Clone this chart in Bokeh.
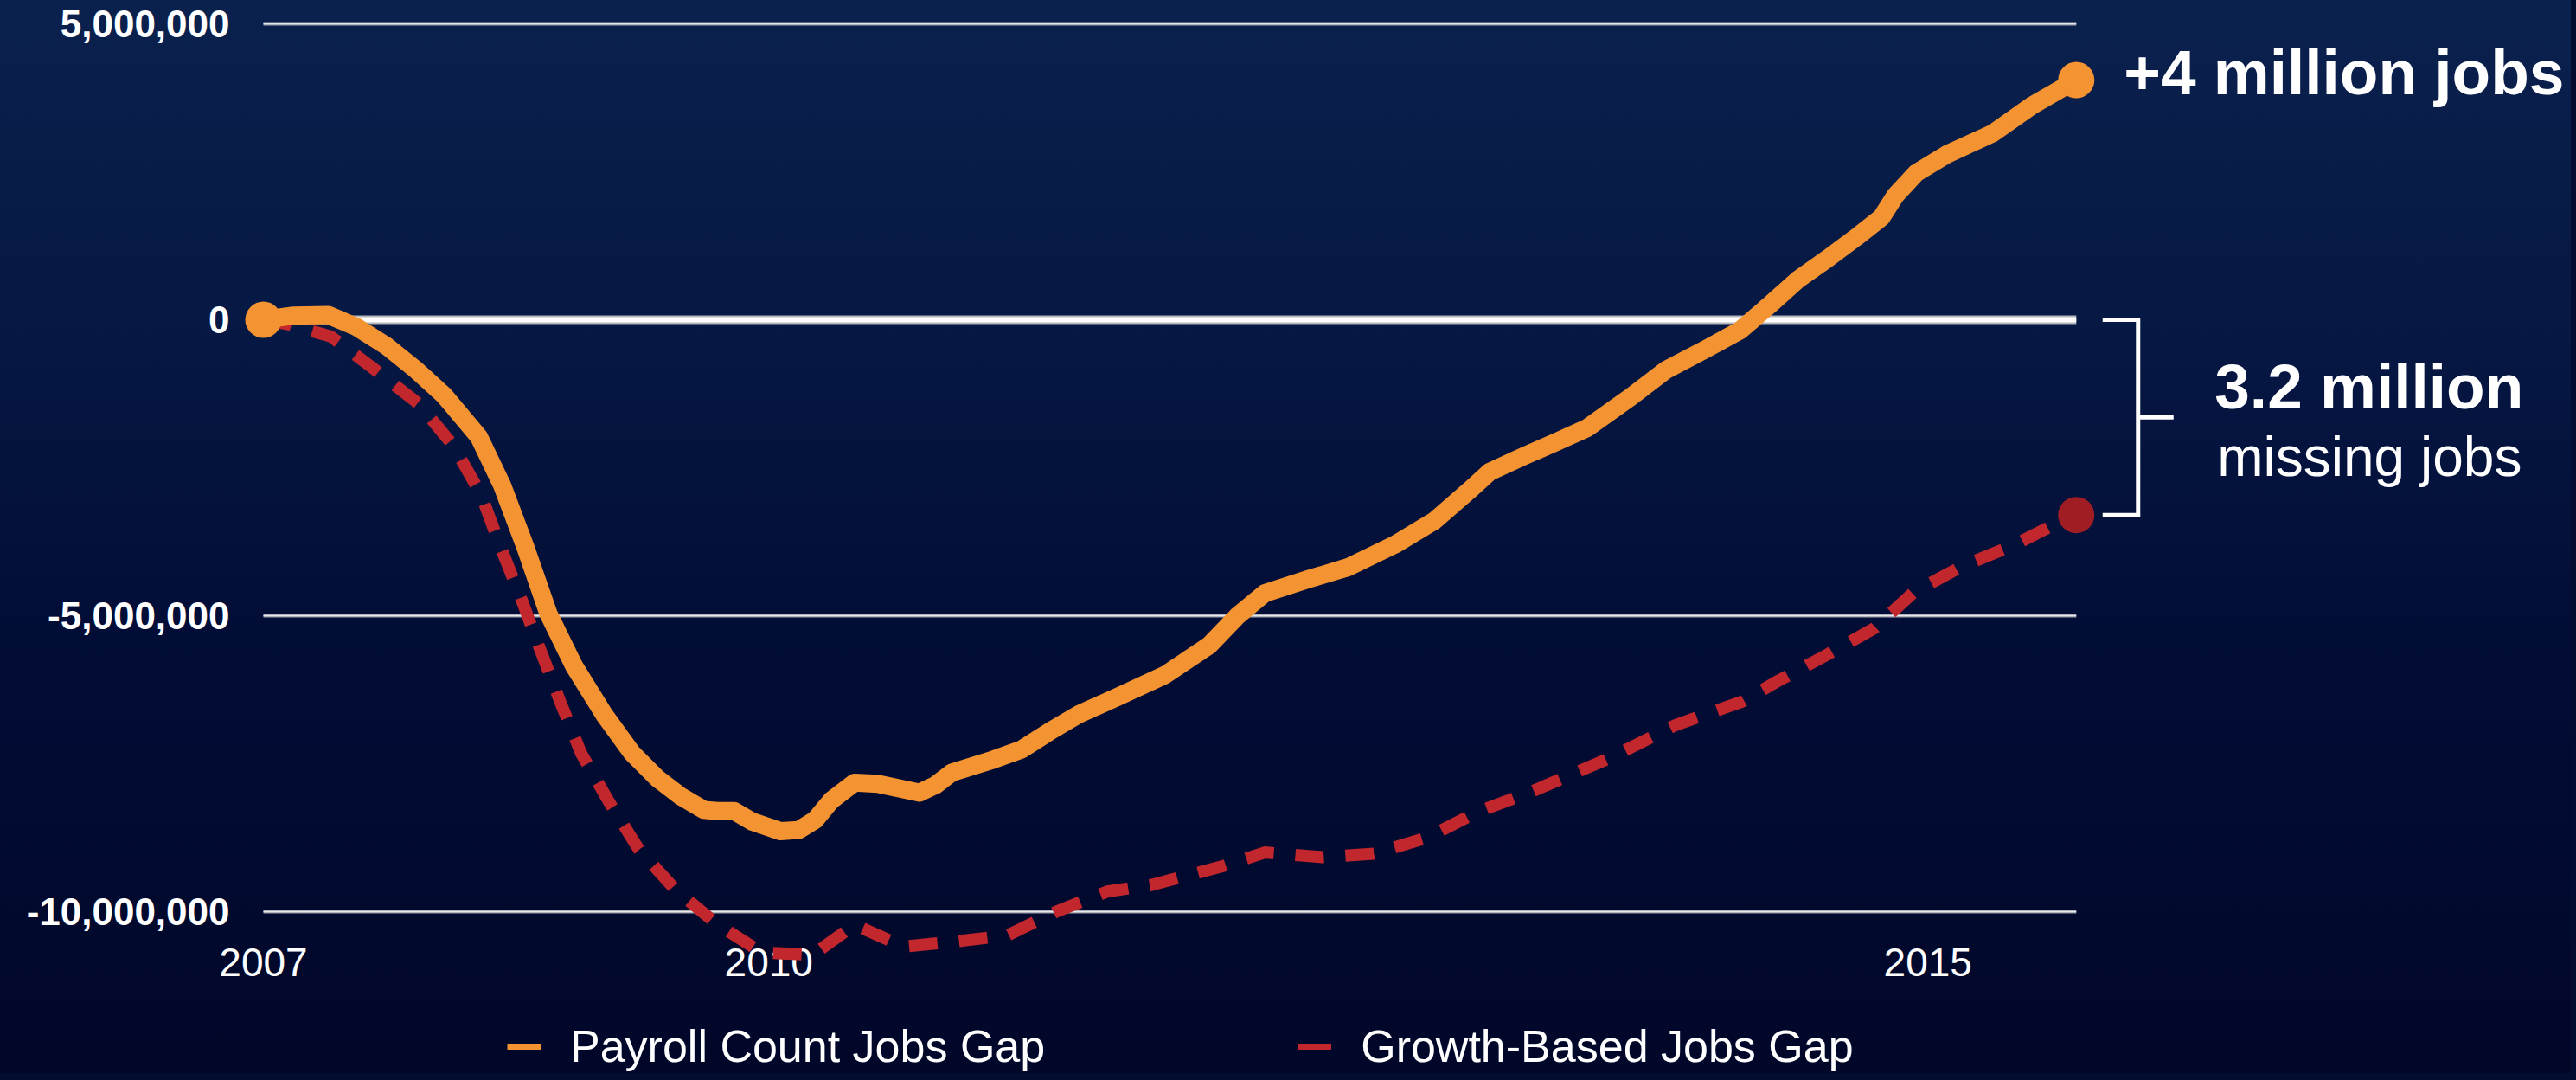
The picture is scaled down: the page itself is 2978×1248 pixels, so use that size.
import numpy as np
from bokeh.plotting import figure
from bokeh.models import (Range1d, FixedTicker, NumeralTickFormatter, Legend,
                          LegendItem, LabelSet, ColumnDataSource)
from bokeh.core.properties import value
from bokeh.embed import file_html
from bokeh.resources import INLINE

# ---------------- data ----------------
SERIES_NAMES = ["Payroll Count Jobs Gap", "Growth-Based Jobs Gap"]

PAYROLL_YEARS = [2007.82, 2007.95, 2008.10, 2008.22, 2008.35, 2008.48, 2008.60,
                 2008.75, 2008.85, 2008.95, 2009.05, 2009.16, 2009.29, 2009.41,
                 2009.52, 2009.62, 2009.72, 2009.78, 2009.85, 2009.93, 2010.05,
                 2010.13, 2010.20, 2010.27, 2010.37, 2010.47, 2010.65, 2010.72,
                 2010.79, 2010.97, 2011.09, 2011.21, 2011.34, 2011.50, 2011.71,
                 2011.90, 2012.02, 2012.14, 2012.33, 2012.50, 2012.70, 2012.87,
                 2013.02, 2013.11, 2013.26, 2013.40, 2013.53, 2013.72, 2013.87,
                 2014.04, 2014.19, 2014.32, 2014.44, 2014.57, 2014.69, 2014.80,
                 2014.86, 2014.95, 2015.08, 2015.28, 2015.45, 2015.64]
PAYROLL_GAP_M = [0.00, 0.07, 0.08, -0.12, -0.44, -0.85, -1.28,
                 -1.98, -2.80, -3.84, -4.97, -5.85, -6.67, -7.32,
                 -7.75, -8.05, -8.28, -8.30, -8.30, -8.48, -8.64,
                 -8.62, -8.45, -8.12, -7.82, -7.84, -7.99, -7.86,
                 -7.65, -7.43, -7.26, -6.96, -6.66, -6.38, -6.00,
                 -5.50, -5.01, -4.62, -4.38, -4.18, -3.80, -3.40,
                 -2.89, -2.57, -2.30, -2.06, -1.83, -1.30, -0.85,
                 -0.50, -0.18, 0.26, 0.68, 1.04, 1.39, 1.73,
                 2.10, 2.48, 2.79, 3.15, 3.62, 4.05]

GROWTH_YEARS = [2007.82, 2007.92, 2008.11, 2008.30, 2008.49, 2008.64, 2008.76,
                2008.84, 2008.93, 2009.01, 2009.10, 2009.19, 2009.31, 2009.44,
                2009.60, 2009.78, 2009.97, 2010.19, 2010.37, 2010.58, 2010.79,
                2011.03, 2011.24, 2011.46, 2011.65, 2011.96, 2012.14, 2012.39,
                2012.61, 2012.84, 2013.06, 2013.28, 2013.63, 2013.91, 2014.20,
                2014.35, 2014.56, 2014.77, 2014.94, 2015.15, 2015.37, 2015.56,
                2015.64]
GROWTH_GAP_M = [0.00, -0.07, -0.28, -0.84, -1.42, -2.13, -2.96,
                -3.81, -4.69, -5.53, -6.45, -7.32, -8.14, -8.95,
                -9.64, -10.22, -10.69, -10.73, -10.22, -10.59, -10.51,
                -10.40, -10.00, -9.66, -9.55, -9.23, -9.00, -9.08,
                -9.02, -8.75, -8.31, -7.99, -7.40, -6.85, -6.45,
                -6.11, -5.67, -5.21, -4.60, -4.16, -3.81, -3.43,
                -3.30]

Y_TICKS = [5_000_000, 0, -5_000_000, -10_000_000]
X_TICK_POS = [2007.82, 2010.0, 2015.0]
X_TICK_LABELS = ["2007", "2010", "2015"]

ANNOT_TOP = "+4 million jobs"
ANNOT_GAP = "3.2 million"
ANNOT_GAP_SUB = "missing jobs"

payroll = np.array(PAYROLL_GAP_M) * 1e6
growth = np.array(GROWTH_GAP_M) * 1e6

# ---------------- layout / style ----------------
ORANGE = "#f39332"
RED = "#c1272d"
RED_DOT = "#a11d24"
FONT = "Liberation Sans"

W, H = 2972, 1240
ML, MR, MT, MB = 252, 0, 0, 0
FRAME_W = W - ML - MR
FRAME_H = H - MT - MB
PX_YR = 268.0      # pixels per year
PX_M = 68.4        # pixels per million

x_start = PAYROLL_YEARS[0] - 52 / PX_YR
x_end = x_start + FRAME_W / PX_YR
y_top = Y_TICKS[0] + 27 / PX_M * 1e6
y_bot = y_top - FRAME_H / PX_M * 1e6

p = figure(width=W, height=H, output_backend="svg", toolbar_location=None,
           x_range=Range1d(x_start, x_end), y_range=Range1d(y_bot, y_top),
           x_axis_location=None, y_axis_location="left",
           min_border_left=ML, min_border_right=MR,
           min_border_top=MT, min_border_bottom=MB)
p.grid.visible = False
p.background_fill_color = None
p.border_fill_color = None
p.outline_line_color = None
p.styles = {"background": "linear-gradient(180deg, #0b214d 0%, #061844 30%, "
                          "#020d36 60%, #010729 100%)",
            "box-shadow": "0 0 0 16px #030c31"}

# y axis
yax = p.yaxis[0]
yax.ticker = FixedTicker(ticks=Y_TICKS)
yax.formatter = NumeralTickFormatter(format="0,0")
yax.axis_line_color = None
yax.major_tick_line_color = None
yax.minor_tick_line_color = None
yax.major_tick_out = 0
yax.major_tick_in = 0
yax.major_label_standoff = -13
yax.major_label_text_font = FONT
yax.major_label_text_font_style = "bold"
yax.major_label_text_font_size = "44px"
yax.major_label_text_color = "white"

x_first = PAYROLL_YEARS[0]
x_last = PAYROLL_YEARS[-1]

# horizontal grid lines (only across data span)
grid_y = [t for t in Y_TICKS if t != 0]
n = len(grid_y)
p.segment(x0=[x_first] * n, y0=grid_y, x1=[x_last] * n, y1=grid_y,
          line_color="#9fa2ad", line_width=4)
p.segment(x0=[x_first] * n, y0=grid_y, x1=[x_last] * n, y1=grid_y,
          line_color="#e6e7ea", line_width=1.5)
# zero line
p.segment(x0=[x_first], y0=[0], x1=[x_last], y1=[0],
          line_color="#b5b6bc", line_width=10)
p.segment(x0=[x_first], y0=[0], x1=[x_last], y1=[0],
          line_color="#ffffff", line_width=6)

# x tick labels (drawn under the lines, as in the original)
XLABEL_Y = -10.86e6
xlab_src = ColumnDataSource(dict(x=X_TICK_POS, y=[XLABEL_Y] * len(X_TICK_POS),
                                 text=X_TICK_LABELS))
xlabels = LabelSet(x="x", y="y", text="text", source=xlab_src, level="underlay",
                   text_font=value(FONT), text_font_size="46px",
                   text_color="white", text_align="center",
                   text_baseline="middle")
p.add_layout(xlabels)

# series
p.line(GROWTH_YEARS, growth, line_color=RED, line_width=14,
       line_dash="33 25", line_cap="butt", line_join="round")
p.line(PAYROLL_YEARS, payroll, line_color=ORANGE, line_width=21,
       line_cap="round", line_join="round")

# end / start markers
p.scatter([PAYROLL_YEARS[0], PAYROLL_YEARS[-1]], [payroll[0], payroll[-1]],
          size=42, fill_color=ORANGE, line_color=None)
p.scatter([GROWTH_YEARS[-1]], [growth[-1]], size=42,
          fill_color=RED_DOT, line_color=None)

# bracket between zero line and growth-based end value
bx = x_last + 71.5 / PX_YR
bl = x_last + 30.5 / PX_YR
br = x_last + 112.5 / PX_YR
mid = (0 + growth[-1]) / 2
p.multi_line(xs=[[bl, bx, bx, bl], [bx, br]],
             ys=[[0, 0, growth[-1], growth[-1]], [mid, mid]],
             line_color="white", line_width=5, line_join="miter")

# annotations
p.text(x=[x_last], y=[payroll[-1]], text=[ANNOT_TOP], x_offset=55, y_offset=-9,
       text_font=value(FONT), text_font_style="bold", text_font_size="73px",
       text_color="white", text_align="left", text_baseline="middle")
p.text(x=[x_last], y=[mid], text=[ANNOT_GAP], x_offset=160, y_offset=-36,
       text_font=value(FONT), text_font_style="bold", text_font_size="73px",
       text_color="white", text_align="left", text_baseline="middle")
p.text(x=[x_last], y=[mid], text=[ANNOT_GAP_SUB], x_offset=163, y_offset=46,
       text_font=value(FONT), text_font_size="64px",
       text_color="white", text_align="left", text_baseline="middle")

# legend (proxy renderers carrying the legend's short solid swatches)
r1 = p.line([x_first], [np.nan], line_color=ORANGE, line_width=7)
r2 = p.line([x_first], [np.nan], line_color=RED, line_width=7)
legend = Legend(items=[LegendItem(label=SERIES_NAMES[0], renderers=[r1]),
                       LegendItem(label=SERIES_NAMES[1], renderers=[r2])],
                orientation="horizontal", location=(334, 1),
                glyph_width=39, glyph_height=20, label_standoff=34,
                spacing=292, padding=0, margin=0,
                border_line_color=None, background_fill_alpha=0,
                label_text_font=FONT, label_text_font_size="52px",
                label_text_color="white", label_text_baseline="middle")
p.add_layout(legend)

open("out.html", "w").write(file_html(p, INLINE))
